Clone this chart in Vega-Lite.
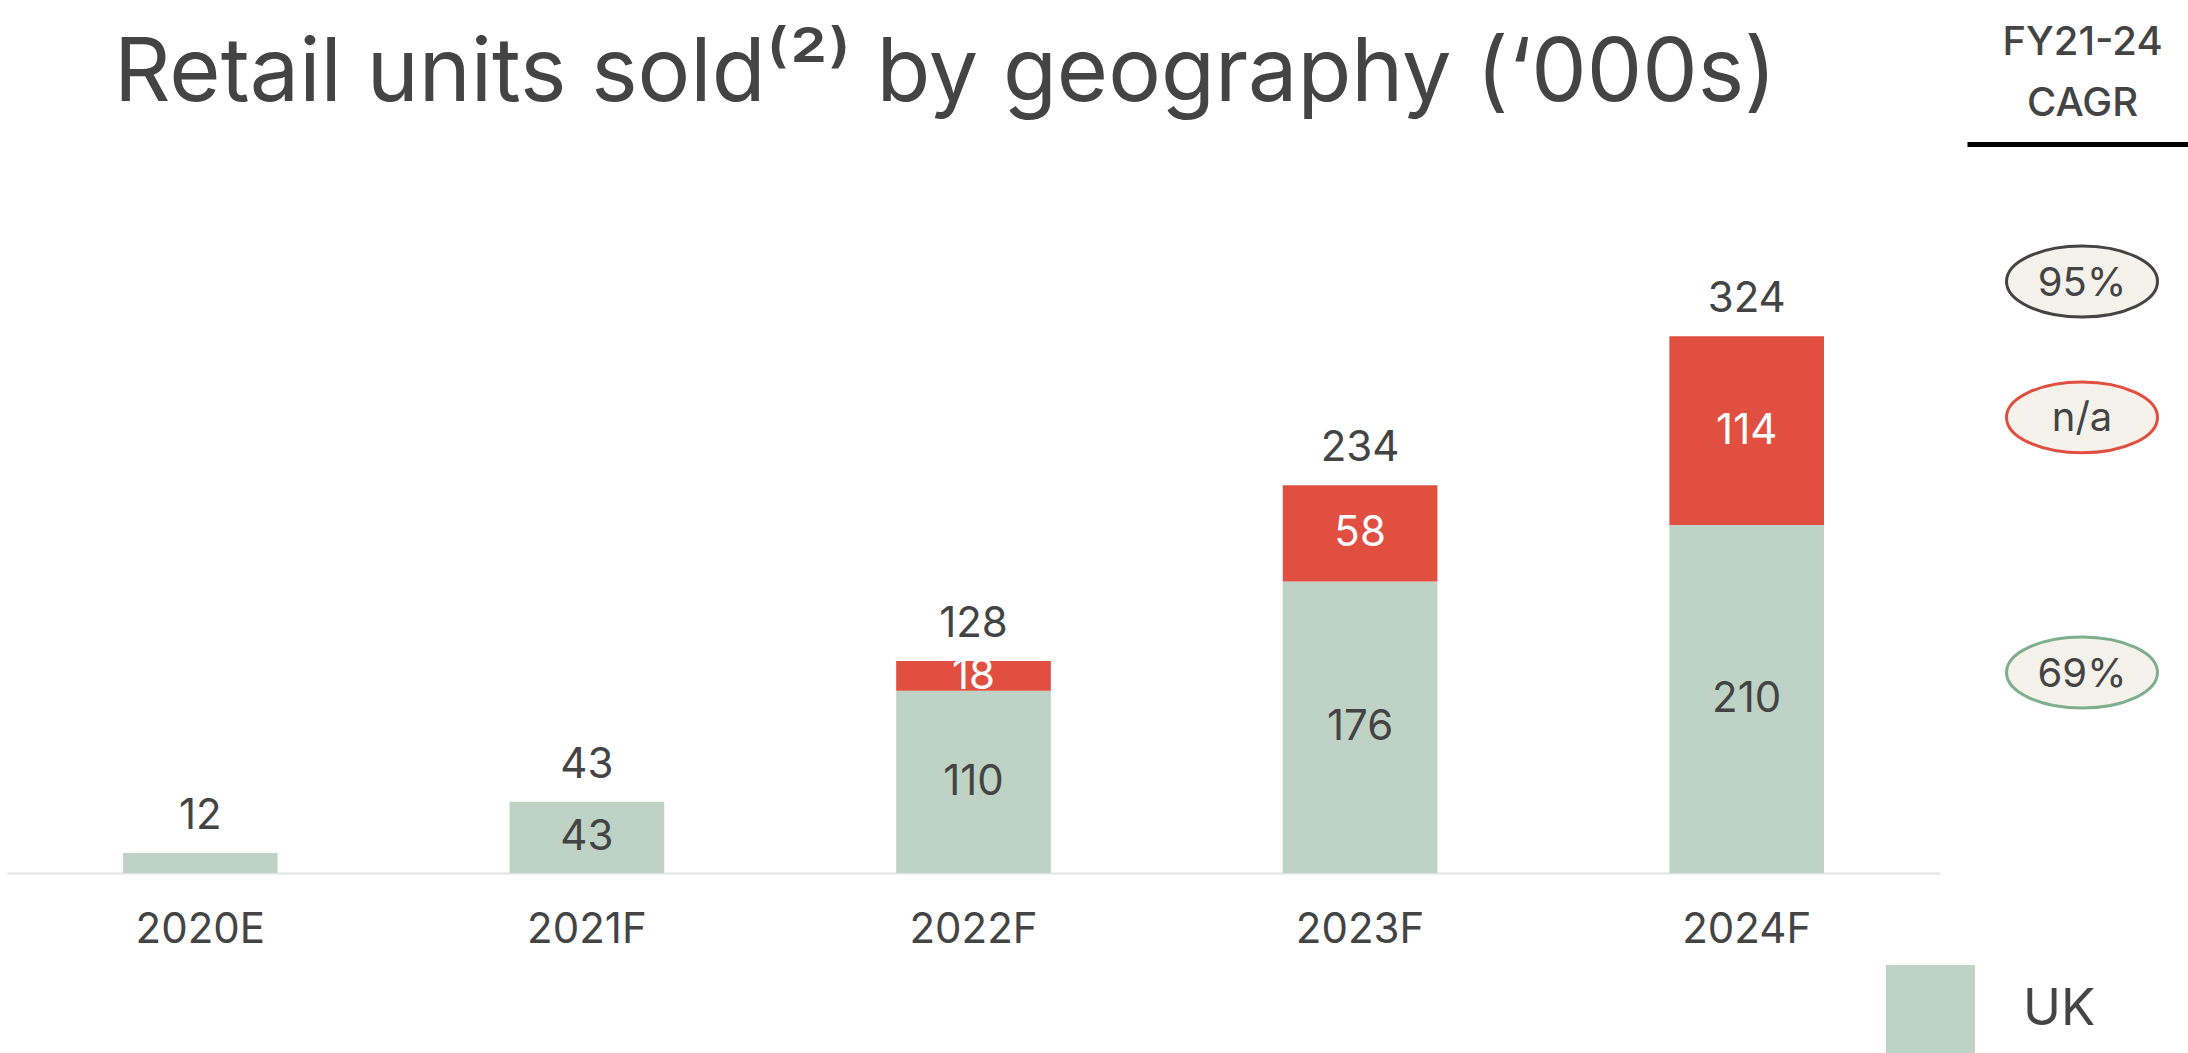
{
  "$schema": "https://vega.github.io/schema/vega-lite/v6.json",
  "width": 2181,
  "height": 729,
  "autosize": {"type": "none"},
  "padding": {"left": 7, "top": 144, "right": 0, "bottom": 180},
  "background": "#ffffff",
  "config": {"view": {"stroke": null}, "font": "Inter", "text": {"font": "Inter"}},
  "title": {
    "text": "Retail units sold⁽²⁾ by geography (‘000s)",
    "anchor": "start",
    "fontSize": 88,
    "fontWeight": 400,
    "color": "#444444",
    "font": "Inter",
    "dx": 107,
    "dy": 101
  },
  "datasets": {
    "units": [
      {"year": "2020E", "series": "UK", "units": 12},
      {"year": "2021F", "series": "UK", "units": 43},
      {"year": "2022F", "series": "UK", "units": 110},
      {"year": "2022F", "series": "Europe", "units": 18},
      {"year": "2023F", "series": "UK", "units": 176},
      {"year": "2023F", "series": "Europe", "units": 58},
      {"year": "2024F", "series": "UK", "units": 210},
      {"year": "2024F", "series": "Europe", "units": 114}
    ],
    "cagr": [
      {"metric": "FY21-24 CAGR", "series": "Total", "cagr": "95%", "anchor": 357},
      {"metric": "FY21-24 CAGR", "series": "Europe", "cagr": "n/a", "anchor": 275},
      {"metric": "FY21-24 CAGR", "series": "UK", "cagr": "69%", "anchor": 121}
    ]
  },
  "layer": [
    {
      "data": {"name": "units"},
      "layer": [
        {
          "mark": {"type": "bar"},
          "encoding": {
            "x": {
              "field": "year", "type": "nominal",
              "scale": {"range": [0, 1933], "paddingInner": 0.6, "paddingOuter": 0.3},
              "axis": {
                "orient": "bottom", "title": null, "ticks": false, "grid": false,
                "labelAngle": 0, "labelFontSize": 42, "labelColor": "#444444", "labelFont": "Inter",
                "labelBaseline": "alphabetic", "labelPadding": 69,
                "domainColor": "#E3E3E3", "domainWidth": 2
              }
            },
            "y": {
              "aggregate": "sum", "field": "units", "type": "quantitative",
              "scale": {"domain": [0, 440], "nice": false}, "axis": null
            },
            "color": {
              "field": "series", "type": "nominal",
              "scale": {"domain": ["UK", "Europe"], "range": ["#BED3C5", "#E04F40"]},
              "legend": {
                "values": ["UK"], "title": null, "orient": "none",
                "legendX": 1879, "legendY": 821, "padding": 0,
                "symbolType": "square", "symbolSize": 7921, "symbolStrokeWidth": 0,
                "labelFontSize": 51, "labelColor": "#444444", "labelFont": "Inter", "labelOffset": 48
              }
            },
            "order": {"field": "series", "sort": "descending"}
          }
        },
        {
          "mark": {"type": "text", "fontSize": 42, "color": "#444444", "baseline": "middle", "dy": -37},
          "encoding": {
            "x": {"field": "year", "type": "nominal"},
            "y": {"aggregate": "sum", "field": "units", "type": "quantitative"},
            "text": {"aggregate": "sum", "field": "units", "type": "quantitative"}
          }
        },
        {
          "transform": [
            {"stack": "units", "groupby": ["year"], "sort": [{"field": "series", "order": "descending"}], "as": ["v0", "v1"]},
            {"filter": "datum.units >= 15"},
            {"fold": ["v0", "v1"], "as": ["edge", "pos"]}
          ],
          "mark": {"type": "text", "fontSize": 42, "baseline": "middle"},
          "encoding": {
            "x": {"field": "year", "type": "nominal"},
            "y": {"aggregate": "mean", "field": "pos", "type": "quantitative", "stack": null},
            "detail": {"field": "series", "type": "nominal"},
            "text": {"field": "units", "type": "quantitative"},
            "color": {"condition": {"test": "datum.series === 'Europe'", "value": "#ffffff"}, "value": "#444444"}
          }
        }
      ]
    },
    {
      "data": {"name": "cagr"},
      "layer": [
        {
          "mark": {
            "type": "point", "filled": true, "fill": "#F5F1EB", "fillOpacity": 1, "opacity": 1,
            "shape": "M-1,0A1,0.47,0,1,0,1,0A1,0.47,0,1,0,-1,0Z", "size": 22800, "strokeWidth": 3
          },
          "encoding": {
            "x": {
              "field": "metric", "type": "nominal",
              "scale": {"range": [1960, 2190]},
              "axis": {
                "orient": "top", "labels": false, "ticks": false, "grid": false,
                "domainColor": "#000000", "domainWidth": 5,
                "title": ["FY21-24", "CAGR"], "titleFontSize": 40, "titleFontWeight": 500,
                "titleColor": "#444444", "titleFont": "Inter", "titleBaseline": "alphabetic",
                "titlePadding": 29, "titleLineHeight": 61
              }
            },
            "y": {"field": "anchor", "type": "quantitative", "scale": {"domain": [0, 440], "nice": false}, "axis": null},
            "stroke": {
              "field": "series", "type": "nominal",
              "scale": {"domain": ["Total", "Europe", "UK"], "range": ["#444444", "#E04F40", "#7FAE8C"]},
              "legend": null
            }
          }
        },
        {
          "mark": {"type": "text", "fontSize": 40, "color": "#444444", "baseline": "middle", "dy": 2},
          "encoding": {
            "x": {"field": "metric", "type": "nominal"},
            "y": {"field": "anchor", "type": "quantitative"},
            "text": {"field": "cagr", "type": "nominal"}
          }
        }
      ]
    }
  ],
  "resolve": {"scale": {"x": "independent"}}
}
